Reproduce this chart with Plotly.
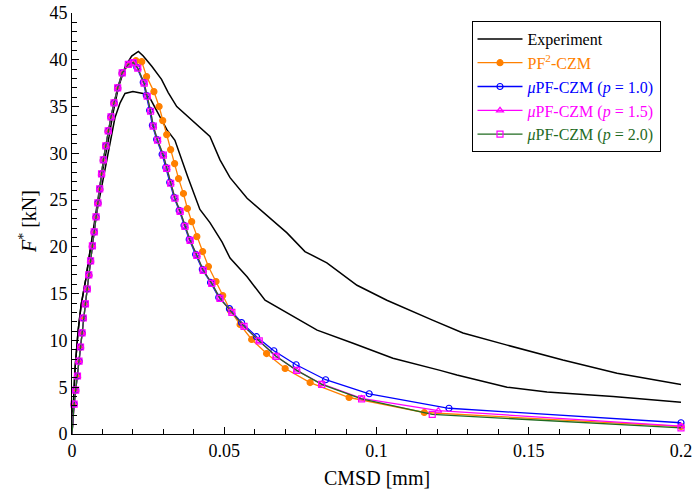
import plotly.graph_objects as go

# ---------------- experimental envelope (two bounding curves) ----------------
exp_hi_x = [0, 0.001, 0.002, 0.003, 0.0045, 0.006, 0.008, 0.0095, 0.012, 0.0136, 0.0152,
            0.0175, 0.0196, 0.0218, 0.0234, 0.0262, 0.0294, 0.0316, 0.0344, 0.0381, 0.042,
            0.0453, 0.0486, 0.0519, 0.0575, 0.064, 0.0706, 0.0765, 0.0837, 0.0936, 0.1034,
            0.1182, 0.1284, 0.1429, 0.1612, 0.179, 0.2]
exp_hi_y = [0, 7.0, 11.0, 13.8, 16.5, 19.7, 24.0, 27.2, 31.5, 34.5, 37.0,
            39.3, 40.4, 40.9, 40.4, 39.3, 37.9, 36.5, 35.0, 33.9, 32.7,
            31.8, 29.3, 27.4, 25.2, 23.4, 21.5, 19.5, 18.3, 15.9, 14.3,
            12.2, 10.8, 9.5, 7.9, 6.5, 5.3]

exp_lo_x = [0, 0.001, 0.002, 0.003, 0.0045, 0.006, 0.0082, 0.0102, 0.0125, 0.0141, 0.0158,
            0.0174, 0.020, 0.0233, 0.0256, 0.0272, 0.0289, 0.0312, 0.0338, 0.038, 0.042,
            0.0453, 0.0493, 0.0519, 0.0575, 0.0634, 0.0805, 0.0923, 0.1054, 0.1209, 0.1264,
            0.1429, 0.156, 0.1777, 0.2]
exp_lo_y = [0, 7.0, 11.0, 13.8, 16.5, 19.7, 23.8, 27.2, 31.0, 33.8, 35.4,
            36.4, 36.6, 36.4, 35.9, 35.0, 33.9, 32.5, 31.4, 27.5, 24.0,
            22.6, 20.5, 18.8, 16.8, 14.3, 11.1, 9.7, 8.1, 6.8, 6.3,
            5.0, 4.5, 4.0, 3.4]

# ---------------- simulations ----------------
# shared pre-peak branch (all models coincide); first point is the unloaded origin
rise_x = [0, 0.0007, 0.0012, 0.0018, 0.0023, 0.0028, 0.0033, 0.0037, 0.0044, 0.0050, 0.0055,
          0.0061, 0.0067, 0.0073, 0.0079, 0.0085, 0.0091, 0.0097, 0.0103, 0.0111, 0.0119,
          0.0128, 0.0138, 0.0150, 0.0165]
rise_y = [0, 3.2, 4.7, 6.2, 7.8, 9.3, 10.8, 12.4, 13.9, 15.5, 17.0,
          18.5, 20.1, 21.6, 23.2, 24.7, 26.2, 27.8, 29.3, 30.8, 32.4,
          33.9, 35.4, 37.0, 38.6]

pf2_x = rise_x + [0.0188, 0.0210, 0.0229, 0.0245, 0.0269, 0.0286, 0.0298, 0.0311, 0.0324,
                  0.0337, 0.0350, 0.0366, 0.0379, 0.0393, 0.0410, 0.0429, 0.0448, 0.0473,
                  0.0495, 0.0520, 0.0552, 0.0590, 0.0639, 0.0700, 0.0782, 0.0910, 0.1157, 0.2]
pf2_y = rise_y + [39.5, 39.9, 39.8, 38.2, 36.6, 35.0, 33.5, 32.0, 30.4,
                  28.9, 27.3, 25.7, 24.1, 22.7, 21.1, 19.5, 17.9, 16.3,
                  14.8, 13.2, 11.7, 10.1, 8.6, 7.0, 5.5, 3.9, 2.3, 0.8]

p10_x = rise_x + [0.0185, 0.0201, 0.0213, 0.0234, 0.0244, 0.0255, 0.0264, 0.0278, 0.0296,
                  0.0308, 0.0321, 0.0335, 0.0352, 0.0368, 0.0385, 0.0406, 0.0428, 0.0455,
                  0.0482, 0.0517, 0.0557, 0.0606, 0.0663, 0.0736, 0.0833, 0.0976, 0.1238, 0.2]
p10_y = rise_y + [39.5, 39.7, 39.2, 37.6, 36.2, 34.6, 33.0, 31.5, 29.9,
                  28.5, 26.9, 25.3, 23.9, 22.3, 20.8, 19.2, 17.6, 16.2,
                  14.6, 13.4, 11.9, 10.4, 8.9, 7.4, 5.8, 4.3, 2.75, 1.2]

p15_x = rise_x + [0.0185, 0.0201, 0.0216, 0.0237, 0.0247, 0.0258, 0.0267, 0.0281, 0.0300,
                  0.0311, 0.0324, 0.0338, 0.0355, 0.0371, 0.0388, 0.0410, 0.0431, 0.0459,
                  0.0486, 0.0525, 0.0565, 0.0615, 0.0670, 0.0738, 0.0820, 0.0951, 0.1203, 0.2]
p15_y = rise_y + [39.5, 39.7, 39.1, 37.5, 36.1, 34.5, 32.9, 31.4, 29.8,
                  28.4, 26.8, 25.2, 23.8, 22.2, 20.7, 19.1, 17.5, 16.1,
                  14.5, 13.0, 11.5, 9.95, 8.3, 6.8, 5.35, 3.8, 2.5, 0.85]

p20_x = rise_x + [0.0185, 0.0201, 0.0216, 0.0237, 0.0247, 0.0258, 0.0267, 0.0281, 0.0300,
                  0.0311, 0.0324, 0.0338, 0.0355, 0.0371, 0.0388, 0.0410, 0.0431, 0.0459,
                  0.0486, 0.0525, 0.0565, 0.0615, 0.0670, 0.0738, 0.0820, 0.0951, 0.1183, 0.2]
p20_y = rise_y + [39.5, 39.7, 39.1, 37.5, 36.1, 34.5, 32.9, 31.4, 29.8,
                  28.4, 26.8, 25.2, 23.8, 22.2, 20.7, 19.1, 17.5, 16.1,
                  14.5, 13.0, 11.5, 9.95, 8.3, 6.8, 5.3, 3.75, 2.1, 0.65]

ORANGE = "#ff8000"
BLUE = "#0000ff"
MAGENTA = "#ff00ff"
GREEN = "#1f6b1f"
FONT = "Liberation Serif"

fig = go.Figure()

fig.add_trace(go.Scatter(x=exp_hi_x, y=exp_hi_y, mode="lines", name="Experiment",
                         line=dict(color="black", width=1.5), legendgroup="exp"))
fig.add_trace(go.Scatter(x=exp_lo_x, y=exp_lo_y, mode="lines", showlegend=False,
                         line=dict(color="black", width=1.5), legendgroup="exp"))


def sim(x, y, color, name, symbol, mcolor, size, group):
    # segment leaving the origin, drawn without a marker
    fig.add_trace(go.Scatter(
        x=x[:2], y=y[:2], mode="lines", showlegend=False, legendgroup=group,
        line=dict(color=color, width=1.3), hoverinfo="skip"))
    fig.add_trace(go.Scatter(
        x=x[1:], y=y[1:], mode="lines+markers", name=name, legendgroup=group,
        cliponaxis=False,
        line=dict(color=color, width=1.3),
        marker=dict(symbol=symbol, size=size, color=mcolor,
                    line=dict(color=mcolor, width=1.2))))


sim(pf2_x, pf2_y, ORANGE, "<span style='color:%s'>PF<sup>2</sup>-CZM</span>" % ORANGE,
    "circle", ORANGE, 6, "pf2")
sim(p10_x, p10_y, BLUE, "<span style='color:%s'><i>μ</i>PF-CZM (<i>p</i> = 1.0)</span>" % BLUE,
    "circle-open", BLUE, 6, "p10")
sim(p15_x, p15_y, MAGENTA, "<span style='color:%s'><i>μ</i>PF-CZM (<i>p</i> = 1.5)</span>" % MAGENTA,
    "triangle-up-open", MAGENTA, 6, "p15")
sim(p20_x, p20_y, GREEN, "<span style='color:%s'><i>μ</i>PF-CZM (<i>p</i> = 2.0)</span>" % GREEN,
    "square-open", MAGENTA, 6, "p20")

axis_common = dict(
    showgrid=False, zeroline=False, showline=True, linecolor="black", linewidth=1,
    ticks="inside", ticklen=7, tickwidth=1, tickcolor="black",
    tickfont=dict(family=FONT, size=18, color="black"),
    mirror=False, automargin=False,
)

fig.update_layout(
    width=694, height=494,
    margin=dict(l=72, r=13, t=13, b=60),
    paper_bgcolor="white", plot_bgcolor="white",
    font=dict(family=FONT, color="black"),
    xaxis=dict(range=[0, 0.2], tickvals=[0, 0.05, 0.1, 0.15, 0.2],
               ticktext=["0", "0.05", "0.1", "0.15", "0.2"],
               minor=dict(dtick=0.01, ticks="inside", ticklen=5, tickcolor="black"),
               **axis_common),
    yaxis=dict(range=[0, 45], dtick=5,
               minor=dict(dtick=1, ticks="inside", ticklen=5, tickcolor="black"),
               **axis_common),
    legend=dict(x=0.656, y=0.981, xanchor="left", yanchor="top",
                bgcolor="white", bordercolor="black", borderwidth=1,
                font=dict(family=FONT, size=16, color="black"),
                tracegroupgap=0, itemwidth=45),
    showlegend=True,
    annotations=[
        dict(text="CMSD [mm]", xref="paper", yref="paper", x=0.5, y=-0.1045,
             xanchor="center", yanchor="middle", showarrow=False,
             font=dict(family=FONT, size=20, color="black")),
        dict(text="<i>F</i><sup>*</sup> [kN]", xref="paper", yref="paper", x=-0.0722, y=0.5036,
             xanchor="center", yanchor="middle", textangle=-90, showarrow=False,
             font=dict(family=FONT, size=20, color="black")),
    ],
)

fig.write_html("out.html")
